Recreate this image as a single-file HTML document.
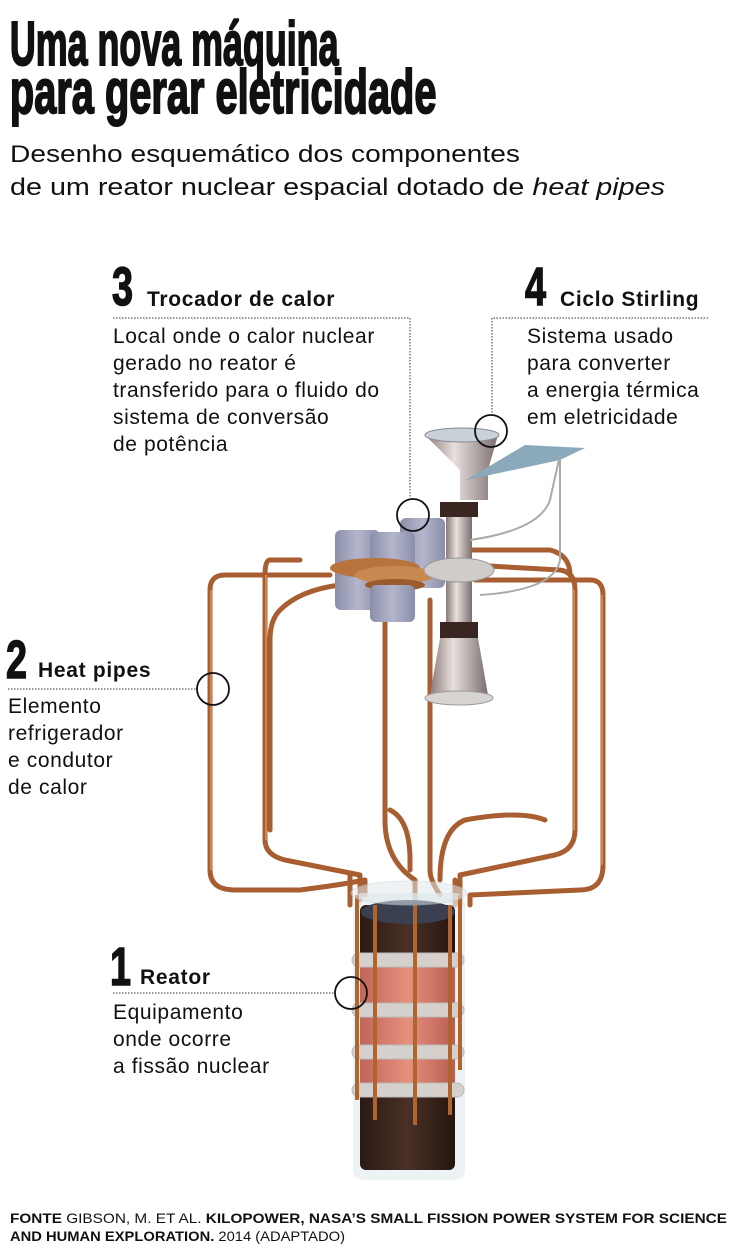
<!DOCTYPE html>
<html><head><meta charset="utf-8"><style>
body{margin:0;background:#fff}
svg{display:block}
text{font-family:"Liberation Sans",sans-serif;fill:#111}
.b{font-size:21px;letter-spacing:0.6px}
.h{font-size:21px;font-weight:bold;letter-spacing:0.7px}
.n{font-size:54px;font-weight:bold;stroke:#111;stroke-width:1.5}
</style></head><body>
<svg width="736" height="1250" viewBox="0 0 736 1250" xmlns="http://www.w3.org/2000/svg">
<defs>
<linearGradient id="cyl" x1="0" x2="1"><stop offset="0" stop-color="#8a8ea8"/><stop offset=".5" stop-color="#b4b6cc"/><stop offset="1" stop-color="#8a8ea8"/></linearGradient>
<linearGradient id="steel" x1="0" x2="1"><stop offset="0" stop-color="#8a7a78"/><stop offset=".4" stop-color="#e8e0dc"/><stop offset="1" stop-color="#7a6e6e"/></linearGradient>
<linearGradient id="dark" x1="0" x2="1"><stop offset="0" stop-color="#2a1a14"/><stop offset=".5" stop-color="#4a3026"/><stop offset="1" stop-color="#24160f"/></linearGradient>
<linearGradient id="pink" x1="0" x2="1"><stop offset="0" stop-color="#c0665a"/><stop offset=".5" stop-color="#e6907e"/><stop offset="1" stop-color="#b85e52"/></linearGradient>
</defs>

<!-- Title -->
<g transform="scale(0.62,1)" style="stroke:#111;stroke-width:2">
<text x="16" y="65" font-size="62" font-weight="bold" textLength="530" lengthAdjust="spacingAndGlyphs">Uma nova máquina</text>
<text x="16" y="113" font-size="62" font-weight="bold" textLength="688" lengthAdjust="spacingAndGlyphs">para gerar eletricidade</text>
</g>
<text x="10" y="162" font-size="24" textLength="510" lengthAdjust="spacingAndGlyphs">Desenho esquemático dos componentes</text>
<text x="10" y="195" font-size="24" textLength="655" lengthAdjust="spacingAndGlyphs">de um reator nuclear espacial dotado de <tspan font-style="italic">heat pipes</tspan></text>

<!-- Label 3 -->
<text x="112" y="305" class="n" transform="translate(112,0) scale(0.7,1) translate(-112,0)">3</text>
<text x="147" y="306" class="h">Trocador de calor</text>
<path d="M113 318H410V498" stroke="#333" stroke-width="1" stroke-dasharray="1.5 1.5" fill="none"/>
<g class="b">
<text x="113" y="343">Local onde o calor nuclear</text>
<text x="113" y="370">gerado no reator é</text>
<text x="113" y="397">transferido para o fluido do</text>
<text x="113" y="424">sistema de conversão</text>
<text x="113" y="451">de potência</text>
</g>

<!-- Label 4 -->
<text x="525" y="305" class="n" transform="translate(525,0) scale(0.7,1) translate(-525,0)">4</text>
<text x="560" y="306" class="h">Ciclo Stirling</text>
<path d="M708 318H492V414" stroke="#333" stroke-width="1" stroke-dasharray="1.5 1.5" fill="none"/>
<g class="b">
<text x="527" y="343">Sistema usado</text>
<text x="527" y="370">para converter</text>
<text x="527" y="397">a energia térmica</text>
<text x="527" y="424">em eletricidade</text>
</g>

<!-- Label 2 -->
<text x="6" y="678" class="n" transform="translate(6,0) scale(0.7,1) translate(-6,0)">2</text>
<text x="38" y="677" class="h">Heat pipes</text>
<path d="M8 689H196" stroke="#333" stroke-width="1" stroke-dasharray="1.5 1.5" fill="none"/>
<g class="b">
<text x="8" y="713">Elemento</text>
<text x="8" y="740">refrigerador</text>
<text x="8" y="767">e condutor</text>
<text x="8" y="794">de calor</text>
</g>

<!-- Label 1 -->
<text x="110" y="985" class="n" transform="translate(110,0) scale(0.7,1) translate(-110,0)">1</text>
<text x="140" y="984" class="h">Reator</text>
<path d="M113 993H334" stroke="#333" stroke-width="1" stroke-dasharray="1.5 1.5" fill="none"/>
<g class="b">
<text x="113" y="1019">Equipamento</text>
<text x="113" y="1046">onde ocorre</text>
<text x="113" y="1073">a fissão nuclear</text>
</g>

<!-- Pipes -->
<g fill="none" stroke="#a85e30" stroke-width="5" stroke-linejoin="round" stroke-linecap="round">
<path d="M330 575H225Q210 575 210 590V870Q210 890 235 890L300 890Q340 885 365 880V895"/>
<path d="M300 560H270Q265 560 265 575V840Q265 855 285 860L360 875V900"/>
<path d="M340 585Q300 590 280 610Q270 620 270 640V830"/>
<path d="M385 610V820Q385 860 415 880V900"/>
<path d="M430 600V870Q430 880 440 895"/>
<path d="M475 580H590Q603 580 603 595V865Q603 890 580 890L470 895V905"/>
<path d="M470 565L560 570Q575 572 575 590V830Q575 850 555 855L460 875V905"/>
<path d="M460 550H550Q570 555 570 575"/>
<path d="M410 870V860Q410 820 390 810"/>
<path d="M440 880Q440 830 465 820Q520 810 545 820"/>
<path d="M350 875V905M455 880V905"/>
</g>
<g fill="none" stroke="#e3a070" stroke-width="1.5" opacity=".8">
<path d="M211 590V870M266 575V840M602 595V865M574 590V830"/>
</g>

<!-- heat exchanger -->
<rect x="335" y="530" width="45" height="80" rx="6" fill="url(#cyl)"/>
<rect x="400" y="518" width="45" height="70" rx="6" fill="url(#cyl)"/>
<rect x="370" y="532" width="45" height="90" rx="6" fill="url(#cyl)"/>
<ellipse cx="375" cy="568" rx="45" ry="10" fill="#b8743c"/>
<ellipse cx="395" cy="575" rx="40" ry="9" fill="#c98850"/>
<ellipse cx="395" cy="585" rx="30" ry="6" fill="#9a5a2a"/>
<rect x="370" y="585" width="45" height="37" rx="6" fill="url(#cyl)"/>

<!-- stirling -->
<path d="M425 435H498L488 470V500H460V470Z" fill="url(#steel)"/>
<ellipse cx="462" cy="435" rx="37" ry="7" fill="#c8d0d8" stroke="#889" stroke-width="1"/>
<rect x="440" y="502" width="38" height="15" fill="#3a2620"/>
<rect x="446" y="517" width="26" height="110" fill="url(#steel)"/>
<ellipse cx="459" cy="570" rx="35" ry="12" fill="#d0ccca" stroke="#999"/>
<rect x="440" y="622" width="38" height="16" fill="#3a2620"/>
<path d="M440 638H478L488 695H430Z" fill="url(#steel)"/>
<ellipse cx="459" cy="698" rx="34" ry="7" fill="#d8d4d2" stroke="#999"/>
<path d="M466 480L525 445L585 448L560 460Z" fill="#8aaabb"/>
<path d="M470 540Q540 530 550 500L560 455V560Q555 590 480 595" fill="none" stroke="#aaa" stroke-width="2"/>

<!-- reactor -->
<rect x="353" y="893" width="112" height="287" rx="10" fill="#e6ecef" opacity=".7"/>
<rect x="360" y="905" width="95" height="265" rx="6" fill="url(#dark)"/>
<ellipse cx="408" cy="912" rx="47" ry="12" fill="#3a4050"/>
<rect x="360" y="960" width="95" height="135" fill="url(#pink)"/>
<g fill="#d6d0cc" stroke="#bbb" stroke-width="1">
<rect x="352" y="953" width="112" height="14" rx="7"/>
<rect x="352" y="1003" width="112" height="14" rx="7"/>
<rect x="352" y="1045" width="112" height="14" rx="7"/>
<rect x="352" y="1083" width="112" height="14" rx="7"/>
</g>
<g stroke="#b0652f" stroke-width="4">
<path d="M357 895V1100M375 905V1120M415 905V1125M450 905V1115M460 895V1070"/>
</g>
<ellipse cx="409" cy="893" rx="58" ry="12" fill="#dfe8ec" opacity=".55" stroke="#c8d4da"/>

<!-- circles -->
<g fill="none" stroke="#111" stroke-width="1.8">
<circle cx="413" cy="515" r="16"/>
<circle cx="491" cy="431" r="16"/>
<circle cx="213" cy="689" r="16"/>
<circle cx="351" cy="993" r="16"/>
</g>

<!-- footer -->
<text x="10" y="1223" font-size="14" textLength="717" lengthAdjust="spacingAndGlyphs"><tspan font-weight="bold">FONTE</tspan>  GIBSON, M. ET AL. <tspan font-weight="bold">KILOPOWER, NASA’S SMALL FISSION POWER SYSTEM FOR SCIENCE</tspan></text>
<text x="10" y="1241" font-size="14" textLength="335" lengthAdjust="spacingAndGlyphs"><tspan font-weight="bold">AND HUMAN EXPLORATION.</tspan> 2014 (ADAPTADO)</text>
</svg>
</body></html>
